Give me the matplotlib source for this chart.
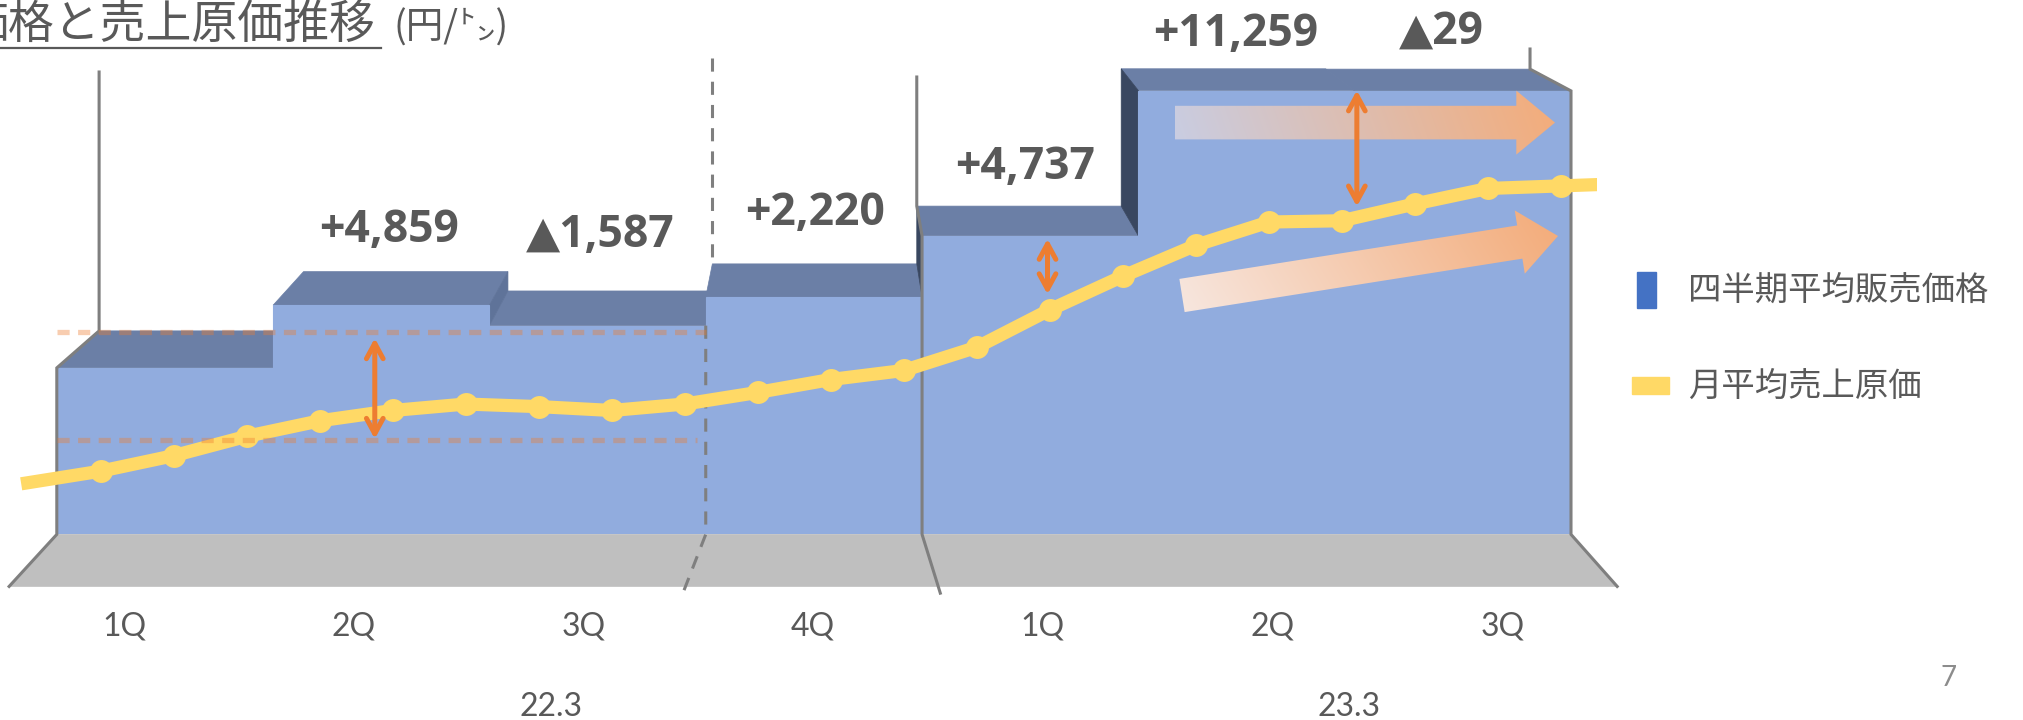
import numpy as np
import matplotlib
matplotlib.use("Agg")
import matplotlib.pyplot as plt
from matplotlib.patches import Polygon, Rectangle
from matplotlib.lines import Line2D
from matplotlib.transforms import IdentityTransform, blended_transform_factory
from matplotlib.colors import to_rgb

plt.rcParams["font.family"] = ["Noto Sans CJK JP", "DejaVu Sans"]

# ---------------- data (円/㌧) ----------------
quarters = ["1Q", "2Q", "3Q", "4Q", "1Q", "2Q", "3Q"]
fiscal_years = ["22.3", "23.3"]
avg_price = [12900, 17759, 16172, 18392, 23129, 34388, 34359]      # 四半期平均販売価格
monthly_cost = [4900, 6100, 7600, 8800, 9600, 10100, 9900, 9600, 10100,
                11000, 12000, 12700, 14500, 17400, 20000, 22400, 24200,
                24300, 25600, 26800, 27000]                          # 月平均売上原価
cost_before = 4000      # month before the period (line enters from the left)
cost_after = 27200      # month after the period (line leaves to the right)
guide_levels = [15700, 7300]                     # orange dashed reference levels
guide_ends = [3.0, 2.96]
spread_arrows = [(1.47, 15200, 7400), (4.58, 22900, 18600), (6.01, 34400, 25400)]

changes = np.diff(avg_price)
change_labels = [f"+{v:,}" if v > 0 else f"▲{-v:,}" for v in changes]
label_offsets = [(8, 75), (3, 90), (1, 83), (-5, 68), (-11, 56), (-22, 59)]

# ---------------- colours ----------------
FRONT = "#91ACDE"
TOP = "#6B7FA6"
SIDE_DARK = "#394760"
SIDE_MID = "#5F7399"
FLOOR_C = "#BFBFBF"
EDGE = "#7F7F7F"
ORANGE = "#ED7D31"
YELLOW = "#FFD966"
TEXT = "#595959"

# ---------------- canvas ----------------
W, H, DPI = 2024, 720, 100
fig = plt.figure(figsize=(W / DPI, H / DPI), dpi=DPI)
fig.patch.set_facecolor("white")

PX_PER_YEN = 0.012908
LEFT, RIGHT, BASE = 56.8, 1571.0, H - 534.4
YMAX = 45000
rect = [LEFT / W, BASE / H, (RIGHT - LEFT) / W, YMAX * PX_PER_YEN / H]
n = len(avg_price)

ax = fig.add_axes(rect)
ax.set_xlim(0, n)
ax.set_ylim(0, YMAX)
ax.set_axis_off()

MONTH0, MONTH_STEP = 0.203, 0.3375
axm = fig.add_axes(rect)
axm.set_xlim(-MONTH0 / MONTH_STEP, (n - MONTH0) / MONTH_STEP)
axm.set_ylim(0, YMAX)
axm.set_axis_off()
axm.set_autoscale_on(False)

inv = ax.transData.inverted()
VP = inv.transform((826, H + 305))      # vanishing point of the 3-D look
DEPTH, FLOOR_S = 0.055, 1.062


def recede(x, y, t=DEPTH):
    return (x + t * (VP[0] - x), y + t * (VP[1] - y))


def advance(x, y, s=FLOOR_S):
    return (VP[0] + (x - VP[0]) * s, VP[1] + (y - VP[1]) * s)


def sep_front(x):
    return (VP[0] + (x - VP[0]) * 1.19, VP[1] + (0 - VP[1]) * 1.07)


def ydata(px_from_top):
    return inv.transform((0, H - px_from_top))[1]


# floor
ax.add_patch(Polygon([(0, 0), (n, 0), advance(n, 0), advance(0, 0)],
                     closed=True, fc=FLOOR_C, ec=FLOOR_C, lw=0.5, zorder=1,
                     clip_on=False))

# top faces
for i, h in enumerate(avg_price):
    ax.add_patch(Polygon([(i, h), (i + 1, h), recede(i + 1, h), recede(i, h)],
                         closed=True, fc=TOP, ec=TOP, lw=0.5, zorder=2,
                         clip_on=False))

# visible side faces at the steps
for i in range(n - 1):
    h0, h1 = avg_price[i], avg_price[i + 1]
    xb = i + 1
    if h1 > h0 and VP[0] < xb:
        col = SIDE_DARK
    elif h1 < h0 and VP[0] > xb:
        col = SIDE_MID
    else:
        continue
    lo, hi = min(h0, h1), max(h0, h1)
    ax.add_patch(Polygon([(xb, lo), (xb, hi), recede(xb, hi), recede(xb, lo)],
                         closed=True, fc=col, ec=col, lw=0.5, zorder=2.5,
                         clip_on=False))

# front faces
ax.bar(np.arange(n), avg_price, width=1.0, align="edge", color=FRONT,
       edgecolor=FRONT, linewidth=0.8, zorder=3)

# outline / divider lines
def gline(pts, **kw):
    xs, ys = zip(*pts)
    ax.add_line(Line2D(xs, ys, color=EDGE, lw=2.2, zorder=4, clip_on=False,
                       solid_joinstyle="miter", **kw))


bl = recede(0, avg_price[0])
gline([advance(0, 0), (0, 0), (0, avg_price[0]), bl, (bl[0], ydata(72))])
br = recede(n, avg_price[-1])
gline([advance(n, 0), (n, 0), (n, avg_price[-1]), br, (br[0], ydata(49))])
bm = recede(4, avg_price[4])
gline([(bm[0], ydata(77)), bm, (4, avg_price[4]), (4, 0), sep_front(4)])
bd = recede(3, avg_price[3])
gline([(bd[0], ydata(58)), bd], dashes=(4.3, 3.3))
gline([(3, avg_price[2]), (3, 0), sep_front(3)], dashes=(4.3, 3.3))

# change labels
for i, (lab, (dx, dy)) in enumerate(zip(change_labels, label_offsets)):
    ax.annotate(lab, xy=(i + 1.5, avg_price[i + 1]), xytext=(dx, dy),
                textcoords="offset pixels", ha="center", va="center",
                fontsize=32, fontweight="bold", color=TEXT,
                family=["Open Sans", "DejaVu Sans"], annotation_clip=False)

# monthly cost line
xs = np.arange(-1, len(monthly_cost) + 1)
ys = [cost_before] + monthly_cost + [cost_after]
line, = axm.plot(xs, ys, color=YELLOW, lw=9.5, marker="o", ms=16.5,
                 mec=YELLOW, mew=0, markevery=list(range(1, len(ys) - 1)),
                 zorder=3, solid_joinstyle="round")
clip = Rectangle((-1.13, -1e5), 20.49 + 1.13, 2e5, transform=axm.transData)
line.set_clip_path(clip)


# gradient block arrows
def gradient_arrow(tail, tip, half_shaft, half_head, head_len, c0, c1, gdir):
    tail = np.array([tail[0], H - tail[1]], float)
    tip = np.array([tip[0], H - tip[1]], float)
    d = tip - tail
    u = d / np.hypot(*d)
    nrm = np.array([-u[1], u[0]])
    base = tip - u * head_len
    pts = np.array([tail + nrm * half_shaft, base + nrm * half_shaft,
                    base + nrm * half_head, tip, base - nrm * half_head,
                    base - nrm * half_shaft, tail - nrm * half_shaft])
    poly = Polygon(pts, closed=True, transform=IdentityTransform(),
                   fc="none", ec="none")
    xmin, ymin = pts.min(axis=0) - 2
    xmax, ymax = pts.max(axis=0) + 2
    nx, ny = int(xmax - xmin) + 1, int(ymax - ymin) + 1
    X, Y = np.meshgrid(np.linspace(xmin, xmax, nx), np.linspace(ymax, ymin, ny))
    g = np.array(gdir, float)
    g /= np.hypot(*g)
    proj = X * g[0] + Y * g[1]
    pv = pts[:, 0] * g[0] + pts[:, 1] * g[1]
    t = np.clip((proj - pv.min()) / (pv.max() - pv.min()), 0, 1)[..., None]
    img = (1 - t) * np.array(to_rgb(c0)) + t * np.array(to_rgb(c1))
    ainv = axm.transData.inverted()
    x0, y0 = ainv.transform((xmin, ymin))
    x1, y1 = ainv.transform((xmax, ymax))
    im = axm.imshow(img, extent=(x0, x1, y0, y1), origin="upper",
                    aspect="auto", interpolation="bilinear", zorder=4)
    im.set_clip_path(poly)


gradient_arrow((1175, 122.6), (1555, 122.6), 16.8, 32, 38.7,
               "#C9CDE2", "#F3AD7C", (1.0, 0.35))
gradient_arrow((1182, 295.5), (1558, 236), 16.8, 32, 38.7,
               "#F7E6DE", "#F3AD7C", (1.0, 0.6))

# reference levels and spreads
for lvl, xe in zip(guide_levels, guide_ends):
    axm.add_line(Line2D([0, xe], [lvl, lvl], transform=ax.transData,
                        color=ORANGE, alpha=0.38, lw=3.8, dashes=(2.3, 1.6),
                        zorder=5, clip_on=False))

for x, y1, y2 in spread_arrows:
    axm.annotate("", xy=(x, y2), xytext=(x, y1), xycoords=ax.transData,
                 textcoords=ax.transData, annotation_clip=False,
                 arrowprops=dict(arrowstyle="<->,head_length=0.55,head_width=0.3",
                                 color=ORANGE, lw=3.6, shrinkA=0, shrinkB=0,
                                 mutation_scale=20, capstyle="round",
                                 joinstyle="round"),
                 zorder=6)

axm.set_xlim(-MONTH0 / MONTH_STEP, (n - MONTH0) / MONTH_STEP)
axm.set_ylim(0, YMAX)

# category labels under the floor
trans = blended_transform_factory(ax.transData, fig.transFigure)
for i, q in enumerate(quarters):
    ax.text(advance(i + 0.5, 0)[0], 1 - 626 / H, q, transform=trans,
            ha="center", va="center", fontsize=23, color=TEXT,
            family=["Lato", "DejaVu Sans"])
for xpx, fy in zip([551, 1349], fiscal_years):
    fig.text(xpx / W, 1 - 707 / H, fy, ha="center", va="center", fontsize=23,
             color=TEXT, family=["Lato", "DejaVu Sans"])

# title
fig.text(-38 / W, 1 - 25 / H, "価格と売上原価推移", ha="left", va="center",
         fontsize=33, color=TEXT)
fig.add_artist(Line2D([0, 381 / W], [1 - 48 / H] * 2, transform=fig.transFigure,
                      color=TEXT, lw=1.6))
fig.text(394 / W, 1 - 28 / H, "(円/㌧)", ha="left", va="center",
         fontsize=27, color=TEXT)

# legend
fig.add_artist(Rectangle((1637 / W, 1 - 308 / H), 19 / W, 36 / H,
                         transform=fig.transFigure, color="#4472C4"))
fig.text(1688 / W, 1 - 290 / H, "四半期平均販売価格", ha="left", va="center",
         fontsize=24, color=TEXT)
fig.add_artist(Rectangle((1632 / W, 1 - 394 / H), 37 / W, 17 / H,
                         transform=fig.transFigure, color=YELLOW))
fig.text(1688 / W, 1 - 386 / H, "月平均売上原価", ha="left", va="center",
         fontsize=24, color=TEXT)

# page number
fig.text(1949 / W, 1 - 678 / H, "7", ha="center", va="center", fontsize=20,
         color="#8C8C8C", family=["Lato", "DejaVu Sans"])

fig.savefig("out.png", dpi=DPI)
